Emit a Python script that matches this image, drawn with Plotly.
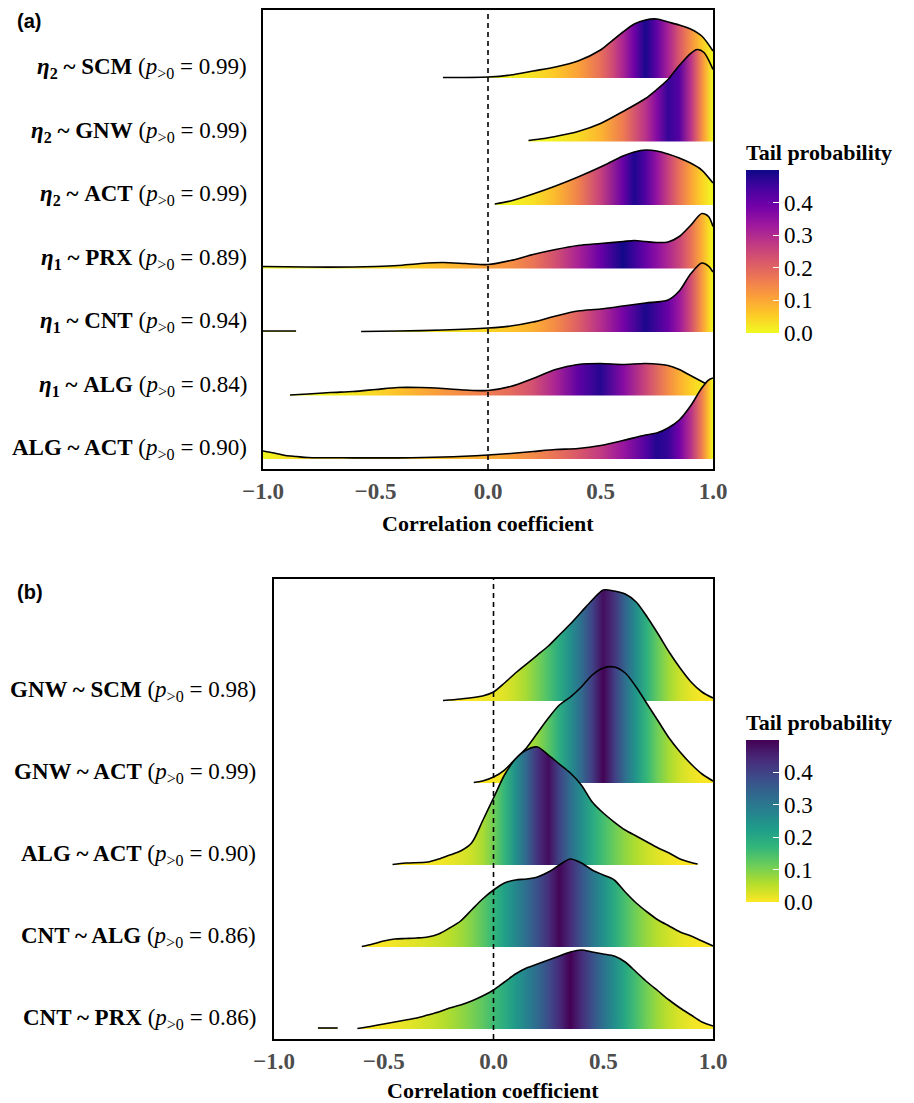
import numpy as np
import plotly.graph_objects as go
from plotly.colors import sample_colorscale, sequential

W, H = 914, 1103
OFF = 8  # page offset of the plot inside the browser window
SERIF = "Liberation Serif"
SANS = "Liberation Sans"


def fx(px):
    return (px - OFF) / W


def fy(py):
    return 1 - (py - OFF) / H


# ---------------- Panel (a) data (density heights, arbitrary units) ----------------
a_lhs = ["η", "η", "η", "η", "η", "η", "ALG"]
a_lhs_sub = ["2", "2", "2", "1", "1", "1", ""]
a_rhs = ["SCM", "GNW", "ACT", "PRX", "CNT", "ALG", "ACT"]
a_p = ["0.99", "0.99", "0.99", "0.89", "0.94", "0.84", "0.90"]

a_scm_x = [-0.2, 0.0, 0.1, 0.2, 0.3, 0.4, 0.5, 0.55, 0.6, 0.65, 0.7, 0.75, 0.8, 0.85, 0.9, 0.95, 1.0]
a_scm_h = [0.5, 1, 3, 7, 11, 17, 28, 37, 46, 54, 58, 59, 56, 53, 49, 42, 27]

a_gnw_x = [0.18, 0.25, 0.3, 0.4, 0.5, 0.6, 0.7, 0.75, 0.8, 0.85, 0.9, 0.93, 0.96, 1.0]
a_gnw_h = [1, 3, 5, 10, 18, 30, 43, 52, 62, 76, 88, 92, 89, 72]

a_act_x = [0.03, 0.1, 0.2, 0.3, 0.4, 0.5, 0.6, 0.65, 0.7, 0.75, 0.8, 0.85, 0.9, 0.95, 1.0]
a_act_h = [1, 4, 11, 19, 28, 38, 49, 53, 55, 54, 51, 47, 42, 35, 22]

a_prx_x = [-1.0, -0.8, -0.6, -0.5, -0.4, -0.3, -0.2, -0.1, 0.0, 0.1, 0.2, 0.3, 0.4, 0.5,
           0.6, 0.65, 0.7, 0.75, 0.8, 0.85, 0.9, 0.95, 0.98, 1.0]
a_prx_h = [2, 1.5, 1.5, 2, 3, 5, 6, 5, 4, 8, 14, 19, 23, 25, 27, 28, 27, 26, 26.5, 32, 43, 55, 52, 42]

a_cnt1_x = [-1.0, -0.853]
a_cnt1_h = [1, 1]
a_cnt2_x = [-0.564, -0.4, -0.2, 0.0, 0.1, 0.2, 0.3, 0.4, 0.5, 0.6, 0.7, 0.8, 0.85, 0.9, 0.95, 0.98, 1.0]
a_cnt2_h = [0.5, 1, 2, 4, 6, 10, 16, 21, 23, 26, 29, 32, 41, 58, 69, 66, 60]

a_alg_x = [-0.88, -0.8, -0.7, -0.6, -0.5, -0.4, -0.3, -0.2, -0.1, 0.0, 0.1, 0.2, 0.3, 0.4,
           0.5, 0.6, 0.7, 0.8, 0.85, 0.9, 0.95, 1.0]
a_alg_h = [0.5, 1.5, 3, 4, 6, 8, 8, 7, 5.5, 5, 9, 17, 26, 31, 32, 31, 32, 30, 26, 20, 14, 8]

a_aa_x = [-1.0, -0.95, -0.9, -0.85, -0.8, -0.6, -0.4, -0.2, 0.0, 0.1, 0.2, 0.3, 0.4, 0.5,
          0.6, 0.7, 0.75, 0.8, 0.85, 0.9, 0.95, 0.98, 1.0]
a_aa_h = [8, 6, 3.5, 2.5, 1.5, 1.2, 1.2, 2, 4, 5.5, 7.5, 9.5, 10.5, 13.5, 18.5, 24, 26, 31, 39, 53, 71, 79, 81]

# ---------------- Panel (b) data ----------------
b_lhs = ["GNW", "GNW", "ALG", "CNT", "CNT"]
b_rhs = ["SCM", "ACT", "ACT", "ALG", "PRX"]
b_p = ["0.98", "0.99", "0.90", "0.86", "0.86"]

b_gs_x = [-0.23, -0.15, -0.05, 0.0, 0.05, 0.1, 0.15, 0.2, 0.25, 0.3, 0.35, 0.4, 0.45, 0.5,
          0.55, 0.6, 0.65, 0.7, 0.75, 0.8, 0.85, 0.9, 0.95, 1.0]
b_gs_h = [0.5, 2, 5, 9, 18, 28, 37, 46, 55, 66, 77, 89, 101, 111, 110, 107, 99, 84, 67, 49, 33, 19, 9, 3]

b_ga_x = [-0.09, -0.05, 0.0, 0.05, 0.1, 0.15, 0.2, 0.25, 0.3, 0.35, 0.4, 0.45, 0.5, 0.55,
          0.6, 0.65, 0.7, 0.75, 0.8, 0.85, 0.9, 0.95, 1.0]
b_ga_h = [0.5, 2, 6, 13, 24, 35, 50, 65, 78, 86, 96, 108, 115, 116, 110, 96, 79, 62, 45, 31, 19, 9, 2]

b_aa_x = [-0.46, -0.4, -0.3, -0.25, -0.2, -0.15, -0.1, -0.05, 0.0, 0.05, 0.1, 0.15, 0.2, 0.25,
          0.3, 0.35, 0.4, 0.45, 0.5, 0.55, 0.6, 0.65, 0.7, 0.75, 0.8, 0.85, 0.9, 0.93]
b_aa_h = [0.5, 2, 3, 6, 10, 14, 22, 44, 67, 90, 106, 115, 118, 110, 101, 92, 80, 63, 52, 43,
          35, 29, 23, 17, 12, 6, 2.5, 1]

b_ca_x = [-0.6, -0.55, -0.5, -0.45, -0.4, -0.35, -0.3, -0.25, -0.2, -0.15, -0.1, -0.05, 0.0,
          0.05, 0.1, 0.15, 0.2, 0.25, 0.3, 0.35, 0.4, 0.45, 0.5, 0.55, 0.6, 0.65, 0.7, 0.75,
          0.8, 0.85, 0.9, 0.95, 1.0]
b_ca_h = [0.5, 3, 6, 8, 8.5, 9, 10, 13, 19, 26, 37, 48, 57, 64, 67, 68, 70, 75, 82, 88, 84, 77,
          72, 67, 55, 44, 35, 27, 21, 15, 11, 6, 1]

b_cp1_x = [-0.8, -0.71]
b_cp1_h = [1, 1]
b_cp2_x = [-0.62, -0.55, -0.5, -0.45, -0.4, -0.35, -0.3, -0.25, -0.2, -0.15, -0.1, -0.05, 0.0,
           0.05, 0.1, 0.15, 0.2, 0.25, 0.3, 0.35, 0.4, 0.45, 0.5, 0.55, 0.6, 0.65, 0.7, 0.75,
           0.8, 0.85, 0.9, 0.95, 1.0]
b_cp2_h = [0.5, 3, 5, 7, 9, 11, 14, 17, 21, 24, 28, 33, 39, 47, 55, 61, 65, 69, 73, 77, 79, 77,
           75, 73, 67, 57, 47, 38, 29, 21, 14, 7, 3]

x_ticks = [-1.0, -0.5, 0.0, 0.5, 1.0]
x_ticktext = ["−1.0", "−0.5", "0.0", "0.5", "1.0"]
cb_ticks = [0.0, 0.1, 0.2, 0.3, 0.4]
cb_ticktext = ["0.0", "0.1", "0.2", "0.3", "0.4"]

# ridge segments, top row first
a_ridges = [
    [(a_scm_x, a_scm_h)],
    [(a_gnw_x, a_gnw_h)],
    [(a_act_x, a_act_h)],
    [(a_prx_x, a_prx_h)],
    [(a_cnt1_x, a_cnt1_h), (a_cnt2_x, a_cnt2_h)],
    [(a_alg_x, a_alg_h)],
    [(a_aa_x, a_aa_h)],
]
b_ridges = [
    [(b_gs_x, b_gs_h)],
    [(b_ga_x, b_ga_h)],
    [(b_aa_x, b_aa_h)],
    [(b_ca_x, b_ca_h)],
    [(b_cp1_x, b_cp1_h), (b_cp2_x, b_cp2_h)],
]

PLASMA_R = sequential.Plasma[::-1]
VIRIDIS_R = sequential.Viridis[::-1]
TAIL_MAX = 0.5


def to_cs(colors):
    n = len(colors)
    return [[i / (n - 1), c] for i, c in enumerate(colors)]


def add_ridge(fig, segs, row, k, cmap, xa, ya):
    cums, total = [], 0.0
    for x, h in segs:
        x = np.asarray(x, float)
        h = np.asarray(h, float)
        c = np.concatenate([[0.0], np.cumsum(np.diff(x) * (h[1:] + h[:-1]) / 2)])
        cums.append(total + c)
        total += c[-1]
    allx = np.concatenate([np.asarray(s[0], float) for s in segs])
    F = np.concatenate(cums) / total
    tail = np.minimum(F, 1 - F)
    x0, x1 = allx.min(), allx.max()
    pos = (allx - x0) / (x1 - x0)
    pos[0], pos[-1] = 0.0, 1.0
    cols = sample_colorscale(to_cs(cmap), list(np.clip(tail / TAIL_MAX, 0, 1)))
    cs = [[float(p), c] for p, c in zip(pos, cols)]
    for x, h in segs:
        x = list(map(float, x))
        y = [row + v * k for v in h]
        fig.add_trace(go.Scatter(
            x=[x[0], x[-1]], y=[row, row], mode="lines",
            line=dict(width=0, color="rgba(0,0,0,0)"),
            hoverinfo="skip", showlegend=False, xaxis=xa, yaxis=ya))
        fig.add_trace(go.Scatter(
            x=x, y=y, mode="lines", fill="tonexty",
            line=dict(color="black", width=1.6, shape="spline", smoothing=0.8),
            fillcolor=cols[len(cols) // 2],
            fillgradient=dict(type="horizontal", colorscale=cs, start=float(x0), stop=float(x1)),
            hoverinfo="skip", showlegend=False, xaxis=xa, yaxis=ya))


fig = go.Figure()

na = len(a_ridges)
for i, segs in enumerate(a_ridges):
    add_ridge(fig, segs, na - i, 1 / 63.5, PLASMA_R, "x", "y")
nb = len(b_ridges)
for i, segs in enumerate(b_ridges):
    add_ridge(fig, segs, nb - i, 1 / 82.0, VIRIDIS_R, "x2", "y2")

# colorbar carriers
fig.add_trace(go.Scatter(x=[0], y=[1], mode="markers", xaxis="x", yaxis="y",
                         marker=dict(color=[0], coloraxis="coloraxis", opacity=0, size=1),
                         hoverinfo="skip", showlegend=False))
fig.add_trace(go.Scatter(x=[0], y=[1], mode="markers", xaxis="x2", yaxis="y2",
                         marker=dict(color=[0], coloraxis="coloraxis2", opacity=0, size=1),
                         hoverinfo="skip", showlegend=False))

# dashed zero lines
for xr, yr in (("x", "y domain"), ("x2", "y2 domain")):
    fig.add_shape(type="line", xref=xr, yref=yr, x0=0, x1=0, y0=0, y1=1, layer="above",
                  line=dict(color="black", width=1.6, dash="5px,4px"))

axis_common = dict(showgrid=False, zeroline=False, showline=True, mirror=True,
                   linecolor="black", linewidth=2, automargin=False)
xcommon = dict(axis_common, range=[-1, 1], tickvals=x_ticks, ticktext=x_ticktext, ticks="",
               ticklabelstandoff=0,
               tickfont=dict(family=SERIF, size=23, color="#4d4d4d", weight="bold"))

TITLE_SPACE = 30


def cbar(ybot, length):
    return dict(x=fx(746), xanchor="left", y=fy(ybot), yanchor="bottom",
                len=length + TITLE_SPACE, lenmode="pixels", thickness=33, thicknessmode="pixels",
                xpad=0, ypad=0, outlinewidth=0, ticks="inside", ticklen=6,
                tickcolor="white", tickwidth=1, tickvals=cb_ticks, ticktext=cb_ticktext,
                tickfont=dict(family=SERIF, size=23, color="black"),
                title=dict(text="<b>Tail probability</b>", side="top",
                           font=dict(family=SERIF, size=22, color="black")))


fig.update_layout(
    width=W, height=H, margin=dict(l=0, r=0, t=0, b=0, autoexpand=False),
    plot_bgcolor="white", paper_bgcolor="white", showlegend=False,
    xaxis=dict(xcommon, domain=[fx(263), fx(713)], anchor="y"),
    yaxis=dict(axis_common, domain=[fy(469), fy(10)], range=[0.843, 8.071],
               showticklabels=False, ticks="", anchor="x"),
    xaxis2=dict(xcommon, domain=[fx(274), fx(713)], anchor="y2"),
    yaxis2=dict(axis_common, domain=[fy(1039), fy(579)], range=[0.878, 6.488],
                showticklabels=False, ticks="", anchor="x2"),
    coloraxis=dict(colorscale=to_cs(PLASMA_R), cmin=0, cmax=TAIL_MAX, colorbar=cbar(333, 163)),
    coloraxis2=dict(colorscale=to_cs(VIRIDIS_R), cmin=0, cmax=TAIL_MAX, colorbar=cbar(902, 162)),
)

ann = []
for i in range(na):
    if a_lhs_sub[i]:
        lhs = f"<i>{a_lhs[i]}</i><sub>{a_lhs_sub[i]}</sub>"
    else:
        lhs = a_lhs[i]
    txt = f"<b>{lhs} ~ {a_rhs[i]}</b> (<i>p</i><sub>&gt;0</sub> = {a_p[i]})"
    ann.append(dict(text=txt, xref="paper", yref="y", x=fx(249), y=na - i, xanchor="right",
                    yanchor="middle", yshift=10, showarrow=False,
                    font=dict(family=SERIF, size=23, color="black")))
for i in range(nb):
    txt = f"<b>{b_lhs[i]} ~ {b_rhs[i]}</b> (<i>p</i><sub>&gt;0</sub> = {b_p[i]})"
    ann.append(dict(text=txt, xref="paper", yref="y2", x=fx(258), y=nb - i, xanchor="right",
                    yanchor="middle", yshift=10, showarrow=False,
                    font=dict(family=SERIF, size=23, color="black")))
for txt, xc, yc in (("Correlation coefficient", 488, 523), ("Correlation coefficient", 493, 1090)):
    ann.append(dict(text=f"<b>{txt}</b>", xref="paper", yref="paper", x=fx(xc), y=fy(yc),
                    xanchor="center", yanchor="middle", showarrow=False,
                    font=dict(family=SERIF, size=22, color="black")))
for txt, yc in (("(a)", 21), ("(b)", 592)):
    ann.append(dict(text=f"<b>{txt}</b>", xref="paper", yref="paper", x=fx(15), y=fy(yc),
                    xanchor="left", yanchor="middle", showarrow=False,
                    font=dict(family=SANS, size=20, color="black")))
fig.update_layout(annotations=ann)

fig.write_html("out.html")
